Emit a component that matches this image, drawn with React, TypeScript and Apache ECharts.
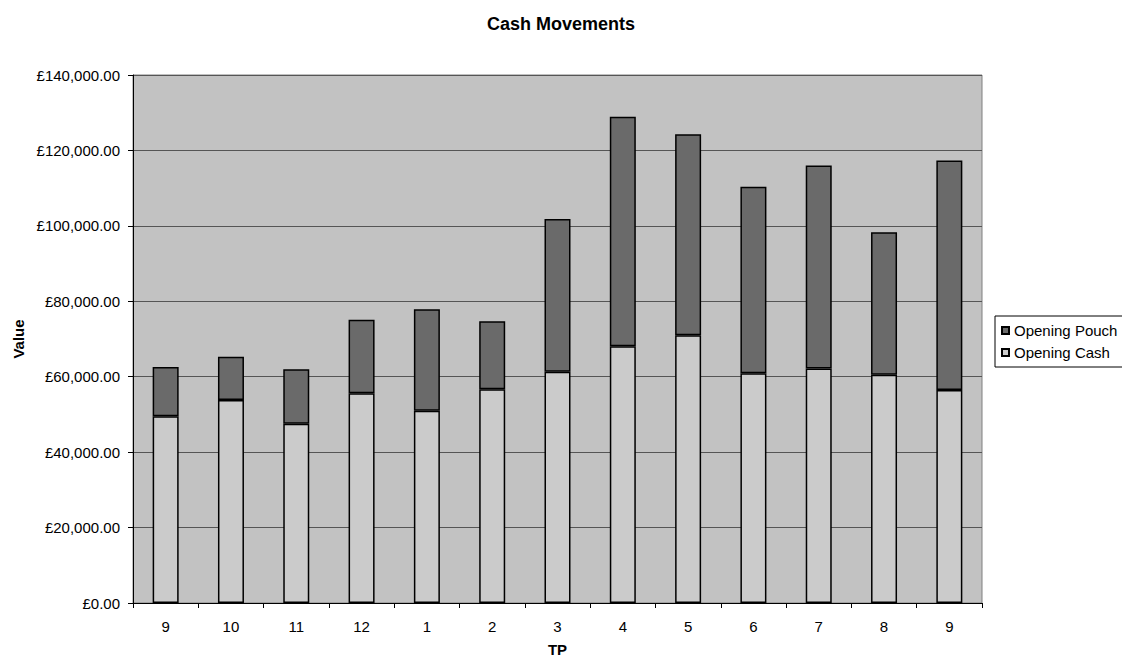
import React, { useEffect, useRef } from "react";
import * as echarts from "echarts";

const categories = ["9", "10", "11", "12", "1", "2", "3", "4", "5", "6", "7", "8", "9"];
const openingCash = [49500, 53800, 47500, 55600, 51000, 56700, 61300, 68100, 71000, 60900, 62200, 60500, 56500];
const openingPouch = [13100, 11500, 14500, 19500, 26900, 18000, 40500, 60800, 53300, 49500, 53800, 37800, 60800];

const FONT = "'Liberation Sans', Arial, sans-serif";

function money(v: number): string {
  const fixed = v.toFixed(2);
  const [intPart, dec] = fixed.split(".");
  const withCommas = intPart.replace(/\B(?=(\d{3})+(?!\d))/g, ",");
  return "£" + withCommas + "." + dec;
}

export default function App() {
  const ref = useRef<HTMLDivElement>(null);
  useEffect(() => {
    if (!ref.current) return;
    const chart = echarts.init(ref.current, undefined, { renderer: "svg" });
    chart.setOption({
      animation: false,
      backgroundColor: "#ffffff",
      title: {
        text: "Cash Movements",
        left: "center",
        top: 10,
        textStyle: { fontFamily: FONT, fontSize: 18, fontWeight: "bold", color: "#000" },
      },
      legend: {
        orient: "vertical",
        left: 995,
        top: 316,
        padding: [7, 10, 7, 6],
        itemGap: 7,
        itemWidth: 7,
        itemHeight: 7,
        icon: "rect",
        backgroundColor: "#ffffff",
        borderColor: "#000",
        borderWidth: 1,
        data: ["Opening Pouch", "Opening Cash"],
        textStyle: { fontFamily: FONT, fontSize: 15, color: "#000" },
      },
      grid: {
        left: 133,
        top: 75,
        width: 849,
        height: 532,
        show: true,
        backgroundColor: "#c2c2c2",
        borderColor: "#808080",
        borderWidth: 1,
      },
      xAxis: {
        type: "category",
        data: categories,
        name: "TP",
        nameLocation: "middle",
        nameGap: 39,
        nameTextStyle: { fontFamily: FONT, fontSize: 15, fontWeight: "bold", color: "#000" },
        axisLine: { lineStyle: { color: "#000", width: 1 } },
        axisTick: { show: true, length: 5, lineStyle: { color: "#000" } },
        axisLabel: { fontFamily: FONT, fontSize: 15, color: "#000", margin: 16 },
        splitLine: { show: false },
      },
      yAxis: {
        type: "value",
        min: 0,
        max: 140000,
        interval: 20000,
        name: "Value",
        nameLocation: "middle",
        nameRotate: 90,
        nameGap: 107,
        nameTextStyle: { fontFamily: FONT, fontSize: 15, fontWeight: "bold", color: "#000" },
        axisLine: { show: true, lineStyle: { color: "#000", width: 1 } },
        axisTick: { show: true, length: 5, lineStyle: { color: "#000" } },
        axisLabel: { fontFamily: FONT, fontSize: 15, color: "#000", margin: 13, formatter: (v: number) => money(v) },
        splitLine: { show: true, lineStyle: { color: "#555555", width: 1 } },
      },
      series: [
        {
          name: "Opening Cash",
          type: "bar",
          stack: "total",
          barWidth: 26,
          data: openingCash,
          itemStyle: { color: "#cbcbcb", borderColor: "#000", borderWidth: 1.5 },
        },
        {
          name: "Opening Pouch",
          type: "bar",
          stack: "total",
          barWidth: 26,
          data: openingPouch,
          itemStyle: { color: "#6a6a6a", borderColor: "#000", borderWidth: 1.5 },
        },
      ],
    });
    return () => chart.dispose();
  }, []);
  return (
    <div
      ref={ref}
      style={{ position: "absolute", left: 0, top: 0, width: 1122, height: 662 }}
    />
  );
}
